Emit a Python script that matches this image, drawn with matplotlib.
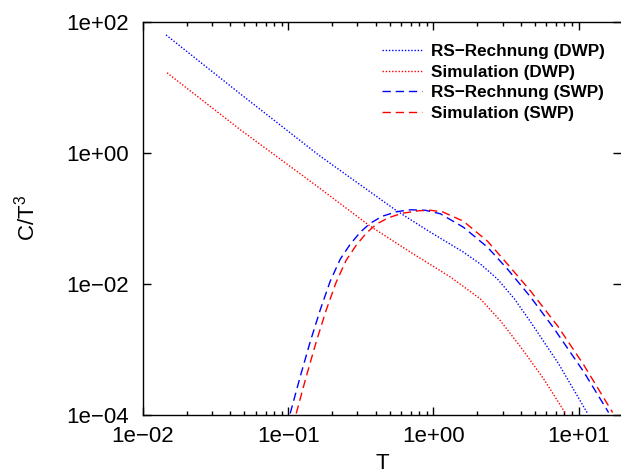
import matplotlib
matplotlib.use("Agg")
import matplotlib.pyplot as plt
from matplotlib.ticker import LogLocator, NullFormatter, FixedLocator

plt.rcParams['font.family'] = ['Liberation Sans', 'DejaVu Sans']
plt.rcParams['mathtext.fontset'] = 'custom'
plt.rcParams['mathtext.rm'] = 'Liberation Sans'
plt.rcParams['mathtext.it'] = 'Liberation Sans'

# RS-Rechnung (DWP), blue dotted
T_rs_dwp = [0.01441, 0.04667, 0.1636, 0.5646, 0.9535, 1.610, 2.110, 2.763, 3.620, 4.667, 7.281, 11.54]
C_rs_dwp = [63.4, 8.03, 0.916, 0.1289, 0.0618, 0.0307, 0.02015, 0.01191, 0.00591, 0.002643, 0.000607, 0.0001054]

# Simulation (DWP), red dotted
T_sim_dwp = [0.01464, 0.04667, 0.1585, 0.3677, 0.694, 1.310, 2.110, 2.899, 3.981, 5.736, 8.136]
C_sim_dwp = [16.76, 2.277, 0.3094, 0.0762, 0.0307, 0.01278, 0.00591, 0.002737, 0.001101, 0.000359, 0.0001054]

# RS-Rechnung (SWP), blue dashed
T_rs_swp = [0.1032, 0.1210, 0.1418, 0.1662, 0.1949, 0.2284, 0.2677, 0.3138, 0.3677, 0.4449, 0.5556,
            0.694, 0.8808, 1.117, 1.610, 2.357, 3.237, 4.667, 6.723, 10.83, 16.10]
C_rs_swp = [0.0001054, 0.000385, 0.001312, 0.004024, 0.01110, 0.02400, 0.04059, 0.0618, 0.0847, 0.1082, 0.1267,
            0.1358, 0.1335, 0.1181, 0.0736, 0.03653, 0.01691, 0.006343, 0.002142, 0.000459, 0.0001091]

# Simulation (SWP), red dashed
T_sim_swp = [0.1136, 0.1331, 0.1560, 0.1829, 0.2143, 0.2512, 0.2944, 0.3450, 0.4045, 0.4894, 0.6112,
             0.7882, 0.9535, 1.154, 1.610, 2.357, 3.237, 4.667, 7.166, 10.83, 17.16]
C_sim_swp = [0.0001054, 0.000385, 0.001312, 0.004024, 0.01073, 0.02317, 0.03918, 0.0597, 0.0818, 0.1026, 0.1202,
             0.1312, 0.1335, 0.1267, 0.0908, 0.0451, 0.02015, 0.00782, 0.002297, 0.000586, 0.0001091]

fig = plt.figure(figsize=(6.21, 4.73), dpi=100)
ax = fig.add_axes([143 / 621, 58 / 473, 478 / 621, 393 / 473])

dot = (0, (1, 1.3))
dash = (0, (6, 3.5))
ax.plot(T_rs_dwp, C_rs_dwp, color='#0000ff', lw=1.0, ls=dot, label='RS\u2212Rechnung (DWP)')
ax.plot(T_sim_dwp, C_sim_dwp, color='#ff0000', lw=1.0, ls=dot, label='Simulation (DWP)')
ax.plot(T_rs_swp, C_rs_swp, color='#0000ff', lw=1.0, ls=dash, label='RS\u2212Rechnung (SWP)')
ax.plot(T_sim_swp, C_sim_swp, color='#ff0000', lw=1.0, ls=dash, label='Simulation (SWP)')

ax.set_xscale('log')
ax.set_yscale('log')
ax.set_xlim(0.01, 19.6)
ax.set_ylim(1e-4, 1e2)

def fmt(v):
    s = '%.0e' % v
    return s.replace('-', '\u2212')

xt = [0.01, 0.1, 1, 10]
yt = [1e-4, 1e-2, 1, 1e2]
ax.xaxis.set_major_locator(FixedLocator(xt))
ax.set_xticklabels([fmt(v) for v in xt])
ax.yaxis.set_major_locator(FixedLocator(yt))
ax.set_yticklabels([fmt(v) for v in yt])
ax.xaxis.set_minor_locator(LogLocator(base=10, subs=range(2, 10)))
ax.xaxis.set_minor_formatter(NullFormatter())
ax.yaxis.set_minor_locator(FixedLocator([]))

ax.tick_params(which='both', direction='in', top=True, right=True, labelsize=16, width=1)
ax.tick_params(which='major', length=6)
ax.tick_params(which='minor', length=3)
ax.tick_params(axis='y', which='major', pad=10.5)
ax.tick_params(axis='x', which='major', pad=8)
ax.spines['right'].set_visible(False)
for s in ['left', 'top', 'bottom']:
    ax.spines[s].set_linewidth(1.0)

ax.set_xlabel('T', fontsize=16, labelpad=4)
ax.set_ylabel('C/T$^3$', fontsize=16, labelpad=19)

leg = ax.legend(loc='upper right', frameon=False, prop={'weight': 'bold', 'size': 12.3},
                handlelength=2.3, handletextpad=0.55, labelspacing=0.33,
                borderpad=0, borderaxespad=0, bbox_to_anchor=(0.9665, 0.944))

fig.savefig('out.png', dpi=100)
